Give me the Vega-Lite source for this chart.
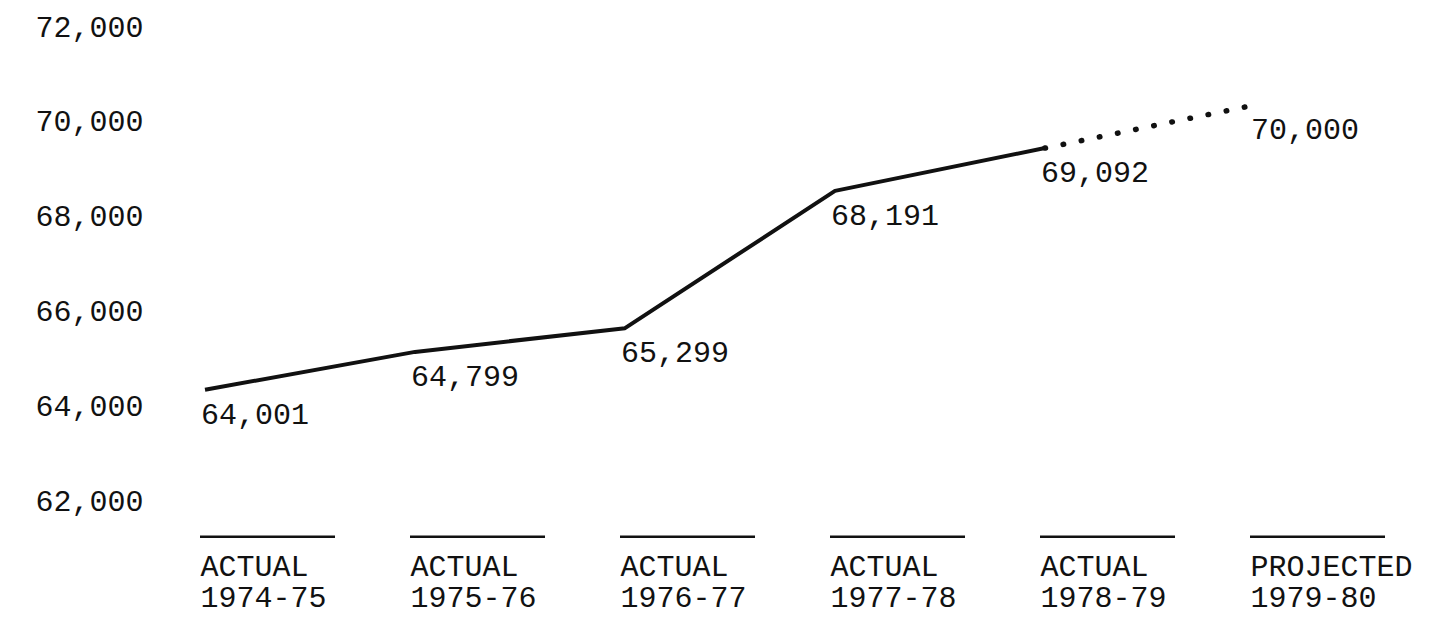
{
  "$schema": "https://vega.github.io/schema/vega-lite/v6.json",
  "autosize": {"type": "none"},
  "padding": {"left": 205, "top": 10, "right": 196, "bottom": 61},
  "width": 1050,
  "height": 546,
  "background": "white",
  "config": {
    "view": {"stroke": null},
    "font": "Liberation Mono",
    "axis": {"labelFont": "Liberation Mono", "labelColor": "#111", "labelFontSize": 30, "labelFontWeight": "normal"}
  },
  "data": {
    "values": [
      {"category": "ACTUAL 1974-75", "status": "ACTUAL", "enrollment": 64001},
      {"category": "ACTUAL 1975-76", "status": "ACTUAL", "enrollment": 64799},
      {"category": "ACTUAL 1976-77", "status": "ACTUAL", "enrollment": 65299},
      {"category": "ACTUAL 1977-78", "status": "ACTUAL", "enrollment": 68191},
      {"category": "ACTUAL 1978-79", "status": "ACTUAL", "enrollment": 69092},
      {"category": "PROJECTED 1979-80", "status": "PROJECTED", "enrollment": 70000}
    ]
  },
  "encoding": {
    "x": {
      "field": "category", "type": "nominal", "sort": null,
      "scale": {"type": "point", "padding": 0},
      "axis": {
        "title": null, "labelAngle": 0, "domain": false, "ticks": false, "grid": false,
        "labelExpr": "split(datum.value, ' ')",
        "labelAlign": "left", "labelOffset": -5, "labelBaseline": "top",
        "labelPadding": -5, "labelLineHeight": 31
      }
    }
  },
  "layer": [
    {
      "mark": {"type": "rule", "color": "#111", "strokeWidth": 2.5, "xOffset": -5, "x2Offset": 130},
      "encoding": {
        "x2": {"field": "category"},
        "y": {"datum": 60905, "type": "quantitative"}
      }
    },
    {
      "transform": [{"filter": "datum.status == 'ACTUAL'"}],
      "mark": {"type": "line", "color": "#111", "strokeWidth": 4, "strokeJoin": "round"},
      "encoding": {
        "y": {
          "field": "enrollment", "type": "quantitative",
          "scale": {"domain": [60500, 72000], "zero": false, "nice": false},
          "axis": {
            "title": null, "values": [62000, 64000, 66000, 68000, 70000, 72000],
            "labelExpr": "format(datum.value, ',')", "domain": false, "ticks": false, "grid": false,
            "labelOffset": 17, "labelPadding": 62, "labelAlign": "right", "labelBaseline": "middle"
          }
        }
      }
    },
    {
      "transform": [{"filter": "datum.category == 'ACTUAL 1978-79' || datum.status == 'PROJECTED'"}],
      "mark": {"type": "line", "color": "#111", "strokeWidth": 5.5, "strokeCap": "round", "strokeDash": [0.5, 18]},
      "encoding": {
        "y": {"field": "enrollment", "type": "quantitative"}
      }
    },
    {
      "mark": {"type": "text", "align": "left", "baseline": "middle", "dx": -4, "dy": 25, "fontSize": 30, "font": "Liberation Mono", "color": "#111"},
      "encoding": {
        "y": {"field": "enrollment", "type": "quantitative"},
        "text": {"field": "enrollment", "type": "quantitative", "format": ","}
      }
    }
  ]
}
